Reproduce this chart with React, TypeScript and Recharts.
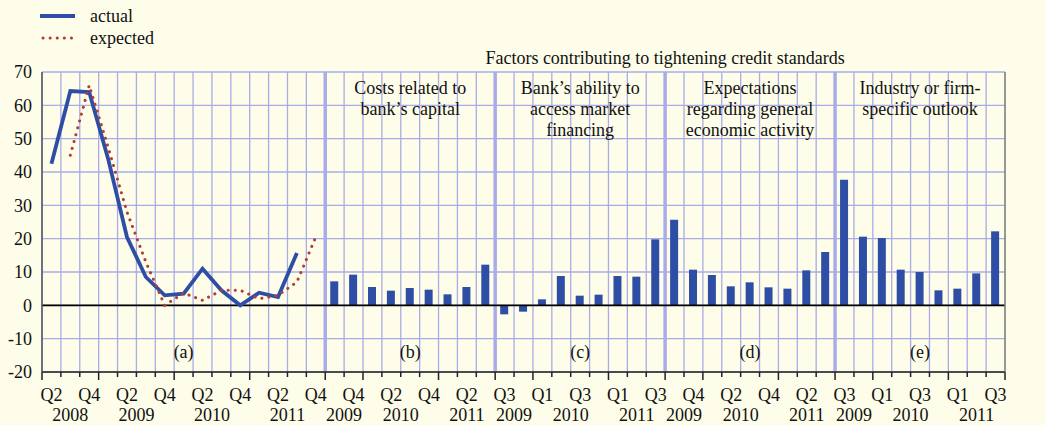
import { ComposedChart, Bar, Line, XAxis, YAxis, CartesianGrid, ReferenceLine, ReferenceArea, Legend } from "recharts";

// quarter labels along the bottom ("" = not labelled)
const quarterLabels = [
  "Q2", "", "Q4", "", "Q2", "", "Q4", "", "Q2", "", "Q4", "", "Q2", "", "Q4",
  "", "Q4", "", "Q2", "", "Q4", "", "Q2", "",
  "Q3", "", "Q1", "", "Q3", "", "Q1", "", "Q3",
  "", "Q4", "", "Q2", "", "Q4", "", "Q2", "",
  "Q3", "", "Q1", "", "Q3", "", "Q1", "", "Q3",
];
const factorYears = ["2009", "2009", "2010", "2010", "2010", "2010", "2011", "2011", "2011"];
const years = [
  "2008", "2008", "2008", "2009", "2009", "2009", "2009", "2010", "2010", "2010", "2010", "2011", "2011", "2011", "2011",
  ...factorYears, ...factorYears, ...factorYears, ...factorYears,
];

// (a) overall tightening, Q2 2008 - Q4 2011
const actual = [42.5, 64.3, 64, 44, 20.5, 8.5, 3, 3.5, 11, 4.5, 0, 3.8, 2.5, 15.7, null];
const expected = [null, 45, 66, 47.5, 28, 13, 0, 3.7, 1.5, 4.5, 4.5, 2, 3, 7, 20.5];

// (b)-(e) factors, Q3 2009 - Q3 2011
const costsOfCapital = [7.2, 9.2, 5.5, 4.4, 5.2, 4.7, 3.3, 5.5, 12.2];
const marketFinancing = [-2.7, -1.9, 1.8, 8.8, 2.9, 3.2, 8.8, 8.6, 19.8];
const economicActivity = [25.7, 10.7, 9.1, 5.7, 6.9, 5.4, 5.0, 10.5, 16.0];
const firmOutlook = [37.7, 20.6, 20.2, 10.7, 10.0, 4.5, 5.0, 9.6, 22.2];

const panelTitles = [
  [],
  ["Costs related to", "bank\u2019s capital"],
  ["Bank\u2019s ability to", "access market", "financing"],
  ["Expectations", "regarding general", "economic activity"],
  ["Industry or firm-", "specific outlook"],
];
const panelTags = ["(a)", "(b)", "(c)", "(d)", "(e)"];
const yTicks = [-20, -10, 0, 10, 20, 30, 40, 50, 60, 70];

const factors = [...costsOfCapital, ...marketFinancing, ...economicActivity, ...firmOutlook];
const nA = actual.length;
const data = quarterLabels.map((q, i) => ({
  key: i,
  actual: i < nA ? actual[i] : null,
  expected: i < nA ? expected[i] : null,
  factor: i >= nA ? factors[i - nA] : null,
}));
const bounds = [0, nA, nA + 9, nA + 18, nA + 27, nA + 36];

const FONT = '"Liberation Serif", "DejaVu Serif", serif';
const FS = 18;
const BG = "#fdfde9";
const GRID = "#a9ace8";
const BLUE = "#2e4ea6";
const RED = "#b23c34";
const W = 1046, H = 425;
const LEFT = 42, RIGHT = 41, TOP = 72, XH = 53;
const PLOT_W = W - LEFT - RIGHT;
const BAND = PLOT_W / data.length;

const QuarterTick = (props: any) => {
  const { x, y, payload } = props;
  const i = Number(payload.value);
  const left = x - BAND / 2;
  const yearStart = i === 0 || years[i] !== years[i - 1];
  let run = 1;
  while (i + run < years.length && years[i + run] === years[i]) run++;
  return (
    <g>
      <line x1={left} x2={left} y1={y} y2={y + (yearStart ? 8 : 5)} stroke="#222" strokeWidth={1.5} />
      {i === data.length - 1 && (
        <line x1={x + BAND / 2} x2={x + BAND / 2} y1={y} y2={y + 8} stroke="#222" strokeWidth={1.5} />
      )}
      {quarterLabels[i] && (
        <text x={x} y={y + 29} textAnchor="middle" fontSize={FS} fontFamily={FONT} fill="#111">
          {quarterLabels[i]}
        </text>
      )}
      {yearStart && (
        <text x={x + ((run - 1) * BAND) / 2} y={y + 49} textAnchor="middle" fontSize={FS} fontFamily={FONT} fill="#111">
          {years[i]}
        </text>
      )}
    </g>
  );
};

const PanelText = ({ viewBox, lines, tag }: any) => {
  if (!viewBox) return null;
  const cx = viewBox.x + viewBox.width / 2;
  return (
    <g fontFamily={FONT} fontSize={FS} fill="#111" textAnchor="middle">
      {lines.map((l: string, k: number) => (
        <text key={k} x={cx} y={viewBox.y + 22 + k * 21}>{l}</text>
      ))}
      <text x={cx} y={viewBox.y + viewBox.height - 14}>{tag}</text>
    </g>
  );
};

const TopTitle = ({ viewBox }: any) => {
  if (!viewBox) return null;
  return (
    <text x={viewBox.x + viewBox.width / 2} y={viewBox.y - 8} textAnchor="middle" fontFamily={FONT} fontSize={FS} fill="#111">
      Factors contributing to tightening credit standards
    </text>
  );
};

const LegendBox = ({ payload }: any) => (
  <div style={{ fontFamily: FONT, fontSize: FS, color: "#111", lineHeight: "22px" }}>
    {(payload || [])
      .filter((e: any) => e.dataKey === "actual" || e.dataKey === "expected")
      .map((e: any) => (
        <div key={e.value} style={{ display: "flex", alignItems: "center", height: 22 }}>
          <svg width={50} height={22}>
            {e.dataKey === "expected" ? (
              <line x1={3} x2={36} y1={11} y2={11} stroke={RED} strokeWidth={3} strokeDasharray="0.1 7" strokeLinecap="round" />
            ) : (
              <line x1={0} x2={35} y1={11} y2={11} stroke={BLUE} strokeWidth={4} />
            )}
          </svg>
          <span>{e.value}</span>
        </div>
      ))}
  </div>
);

export default function App() {
  return (
    <div style={{ width: W, height: H, background: BG }}>
      <style>{`body{margin:0;background:${BG}}`}</style>
      <ComposedChart width={W} height={H} data={data} margin={{ top: TOP, right: 0, bottom: 0, left: 0 }}>
        <CartesianGrid
          stroke={GRID}
          strokeWidth={1.3}
          verticalCoordinatesGenerator={(p: any) => {
            const l = p?.offset?.left ?? LEFT;
            const w = p?.offset?.width ?? PLOT_W;
            return data.map((_, i) => l + (i * w) / data.length);
          }}
        />
        <XAxis
          dataKey="key"
          type="category"
          interval={0}
          height={XH}
          tickSize={0}
          tickMargin={0}
          tickLine={false}
          axisLine={{ stroke: "#222", strokeWidth: 1.5 }}
          tick={<QuarterTick />}
        />
        <YAxis
          domain={[-20, 70]}
          ticks={yTicks}
          width={LEFT}
          tickSize={0}
          tickMargin={10}
          tickLine={false}
          axisLine={{ stroke: "#555", strokeWidth: 1.5 }}
          tick={{ fill: "#111", fontSize: FS, fontFamily: FONT }}
        />
        <YAxis
          yAxisId="r"
          orientation="right"
          domain={[-20, 70]}
          ticks={yTicks}
          width={RIGHT}
          tickSize={0}
          tickMargin={11}
          tickLine={false}
          axisLine={{ stroke: "#777", strokeWidth: 1.5 }}
          tick={{ fill: "#111", fontSize: FS, fontFamily: FONT, textAnchor: "start" }}
        />
        {bounds.slice(0, -1).map((b, p) => (
          <ReferenceArea
            key={p}
            x1={b}
            x2={bounds[p + 1] - 1}
            y1={-20}
            y2={70}
            fill="none"
            fillOpacity={0}
            stroke="none"
            ifOverflow="visible"
            label={(lp: any) => <PanelText viewBox={lp.viewBox} lines={panelTitles[p]} tag={panelTags[p]} />}
          />
        ))}
        <ReferenceArea
          x1={bounds[1]}
          x2={bounds[5] - 1}
          y1={-20}
          y2={70}
          fill="none"
          fillOpacity={0}
          stroke="none"
          ifOverflow="visible"
          label={(lp: any) => <TopTitle viewBox={lp.viewBox} />}
        />
        {bounds.slice(1, -1).map((b) => (
          <ReferenceLine key={b} x={b} position="start" stroke={GRID} strokeWidth={3.5} />
        ))}
        <ReferenceLine y={0} stroke="#000" strokeWidth={1.6} />
        <Bar dataKey="factor" fill={BLUE} barSize={8} legendType="none" isAnimationActive={false} />
        <Line dataKey="actual" name="actual" stroke={BLUE} strokeWidth={3.8} dot={false} isAnimationActive={false} />
        <Line
          dataKey="expected"
          name="expected"
          stroke={RED}
          strokeWidth={3}
          strokeDasharray="0.1 7"
          strokeLinecap="round"
          dot={false}
          isAnimationActive={false}
        />
        <Legend
          layout="vertical"
          align="center"
          verticalAlign="middle"
          content={<LegendBox />}
          wrapperStyle={{ top: 5, left: 40, width: 200, height: 46 }}
        />
      </ComposedChart>
    </div>
  );
}
